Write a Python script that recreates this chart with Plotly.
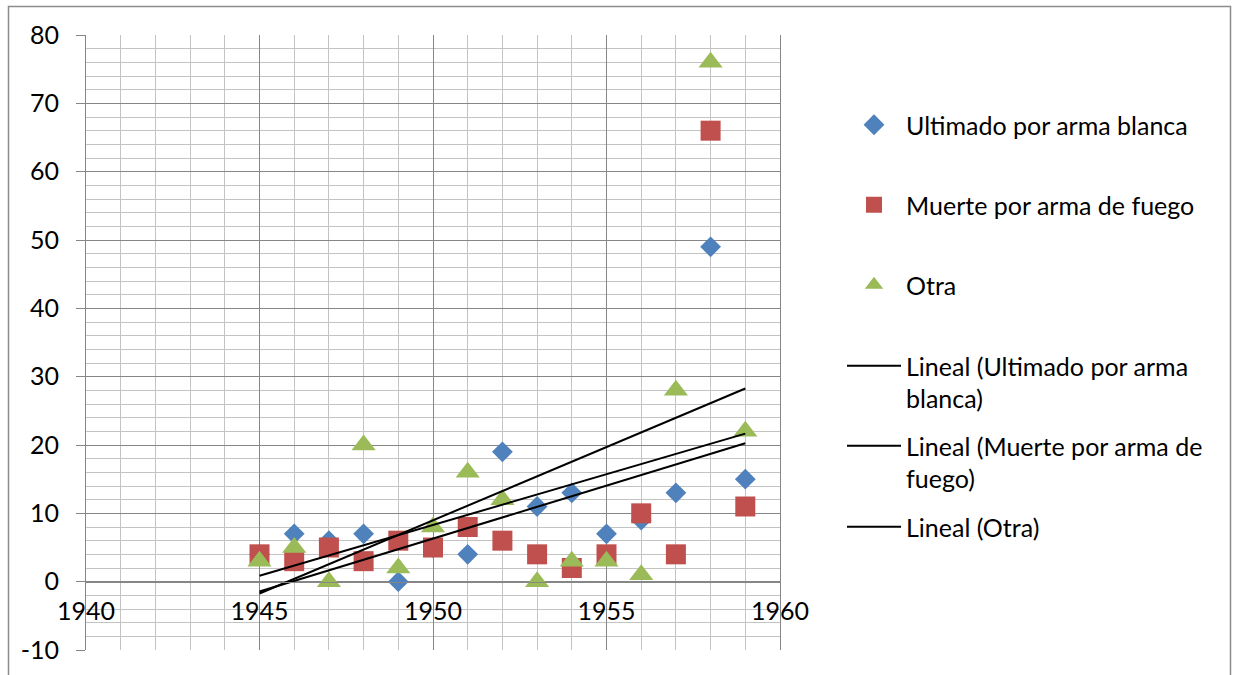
import numpy as np
import plotly.graph_objects as go

years = list(range(1945, 1960))
ultimado = [4, 7, 6, 7, 0, 5, 4, 19, 11, 13, 7, 9, 13, 49, 15]
muerte = [4, 3, 5, 3, 6, 5, 8, 6, 4, 2, 4, 10, 4, 66, 11]
otra = [3, 5, 0, 20, 2, 8, 16, 12, 0, 3, 3, 1, 28, 76, 22]

x_ticks = [1940, 1945, 1950, 1955, 1960]
y_ticks = [-10, 0, 10, 20, 30, 40, 50, 60, 70, 80]

names = ["Ultimado por arma blanca", "Muerte por arma de fuego", "Otra"]
trend_names = ["Lineal (Ultimado por arma<br>blanca)", "Lineal (Muerte por arma de<br>fuego)", "Lineal (Otra)"]
colors = ["#4F81BD", "#C0504D", "#9BBB59"]
symbols = ["diamond", "square", "triangle-up"]
sizes = [16, 20, 21]

FONT = "Lato, 'Open Sans', sans-serif"
FS = 25
W, H = 1235, 675
L, R, T, B = 86, 780, 35, 650  # plot area pixels


def px_x(px):
    return (px - L) / (R - L)


def px_y(py):
    return (B - py) / (B - T)


fig = go.Figure()
series = [ultimado, muerte, otra]
legend_ids = ["legend", "legend2", "legend3", "legend4", "legend5", "legend6"]
for i, ys in enumerate(series):
    fig.add_trace(go.Scatter(
        x=years, y=ys, mode="markers", name=names[i],
        marker=dict(symbol=symbols[i], size=sizes[i], color=colors[i], line=dict(width=0)),
        legend=legend_ids[i], cliponaxis=False,
    ))
for i, ys in enumerate(series):
    m, c = np.polyfit(years, ys, 1)
    xs = [min(years), max(years)]
    fig.add_trace(go.Scatter(
        x=xs, y=[m * v + c for v in xs], mode="lines", name=trend_names[i],
        line=dict(color="black", width=2), legend=legend_ids[3 + i],
    ))

major = "#868686"
minor = "#C3C3C3"

fig.update_layout(
    width=W, height=H,
    margin=dict(l=L, r=W - R, t=T, b=H - B, pad=0),
    paper_bgcolor="white", plot_bgcolor="white",
    font=dict(family=FONT, size=FS, color="black"),
    xaxis=dict(
        range=[1940, 1960], tickvals=x_ticks, ticktext=[str(v) for v in x_ticks],
        showgrid=True, gridcolor=major, gridwidth=1,
        minor=dict(dtick=1, tick0=1940, showgrid=True, gridcolor=minor, gridwidth=1),
        zeroline=False, showline=True, linecolor=major, linewidth=1,
        anchor="free", position=10 / 90,
        ticks="", ticklabelstandoff=7, tickfont=dict(size=FS, family=FONT),
    ),
    yaxis=dict(
        range=[-10, 80], tickvals=y_ticks, ticktext=[str(v) for v in y_ticks],
        showgrid=True, gridcolor=major, gridwidth=1,
        minor=dict(dtick=2, tick0=-10, showgrid=True, gridcolor=minor, gridwidth=1),
        zeroline=False, showline=True, linecolor=major, linewidth=1, mirror=True,
        ticks="outside", ticklen=9, tickcolor=major, tickwidth=1, ticklabelstandoff=12,
        tickfont=dict(size=FS, family=FONT),
    ),
    showlegend=True,
)

leg_centers = [125, 205, 285, 382, 462, 527]
for i, lid in enumerate(legend_ids):
    fig.update_layout(**{lid: dict(
        x=px_x(842), y=px_y(leg_centers[i]), xanchor="left", yanchor="middle",
        xref="paper", yref="paper", itemwidth=54,
        bgcolor="rgba(0,0,0,0)", borderwidth=0, valign="top",
        font=dict(family=FONT, size=FS, color="black"),
    )})

# outer chart border
fig.add_shape(type="rect", xref="paper", yref="paper",
              x0=px_x(8.5), x1=px_x(1230.5), y0=px_y(690), y1=px_y(6.5),
              line=dict(color="#8C8C8C", width=1.5), fillcolor="rgba(0,0,0,0)", layer="below")

fig.write_html("out.html")
